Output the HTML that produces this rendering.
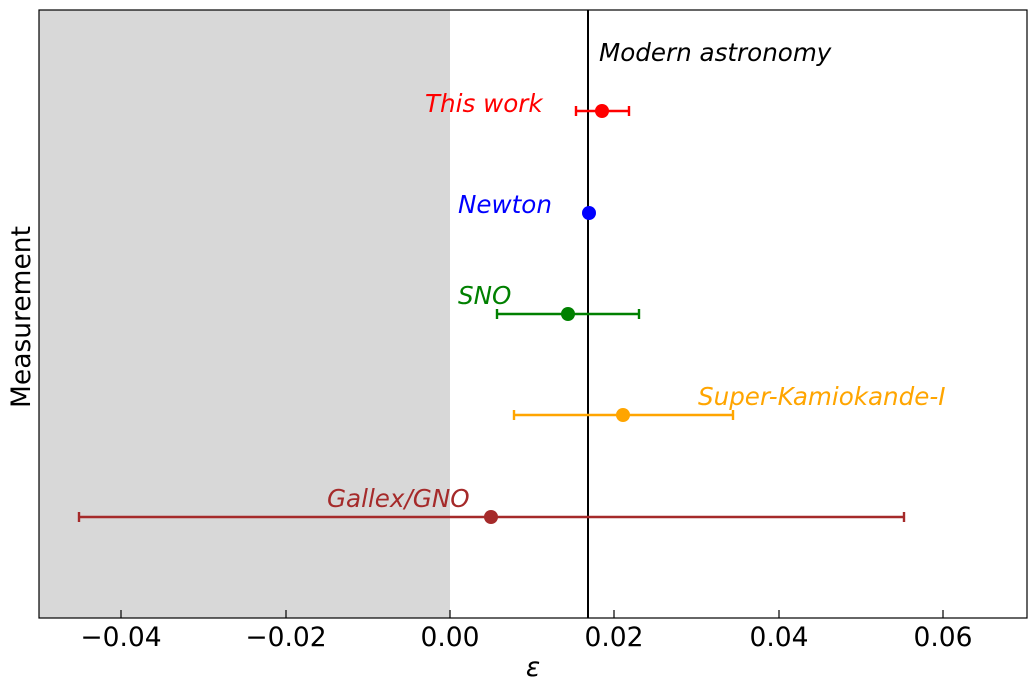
<!DOCTYPE html>
<html><head><meta charset="utf-8"><style>
body{margin:0;background:#fff}
svg text{font-family:"DejaVu Sans","Liberation Sans",sans-serif}
</style></head><body>
<svg width="1035" height="684" xmlns="http://www.w3.org/2000/svg">
<rect x="0" y="0" width="1035" height="684" fill="#fff"/>
<rect x="39" y="10" width="411" height="608" fill="#d8d8d8"/>
<line x1="588" y1="10" x2="588" y2="618" stroke="#000" stroke-width="2"/>
<g stroke-width="2.4">
<g stroke="#ff0000"><line x1="576" y1="111" x2="629" y2="111"/><line x1="576" y1="106" x2="576" y2="116"/><line x1="629" y1="106" x2="629" y2="116"/></g>
<g stroke="#008000"><line x1="497" y1="314" x2="639" y2="314"/><line x1="497" y1="309" x2="497" y2="319"/><line x1="639" y1="309" x2="639" y2="319"/></g>
<g stroke="#ffa500"><line x1="514" y1="415" x2="733" y2="415"/><line x1="514" y1="410" x2="514" y2="420"/><line x1="733" y1="410" x2="733" y2="420"/></g>
<g stroke="#a52a2a"><line x1="79" y1="517" x2="904" y2="517"/><line x1="79" y1="512" x2="79" y2="522"/><line x1="904" y1="512" x2="904" y2="522"/></g>
</g>
<circle cx="602" cy="111" r="7" fill="#ff0000"/>
<circle cx="589" cy="213" r="7" fill="#0000ff"/>
<circle cx="568" cy="314" r="7" fill="#008000"/>
<circle cx="623" cy="415" r="7" fill="#ffa500"/>
<circle cx="491" cy="517" r="7" fill="#a52a2a"/>
<g font-size="24.6" font-style="italic">
<text x="599" y="61" fill="#000">Modern astronomy</text>
<text x="425" y="112" fill="#ff0000">This work</text>
<text x="458" y="213" fill="#0000ff">Newton</text>
<text x="458" y="304" fill="#008000">SNO</text>
<text x="698" y="405" fill="#ffa500">Super-Kamiokande-I</text>
<text x="327" y="507" fill="#a52a2a">Gallex/GNO</text>
</g>
<rect x="39" y="10" width="988" height="608" fill="none" stroke="#000" stroke-width="1.2"/>
<g stroke="#000" stroke-width="1.2">
<line x1="121" y1="618" x2="121" y2="610"/><line x1="286" y1="618" x2="286" y2="610"/><line x1="450" y1="618" x2="450" y2="610"/><line x1="614" y1="618" x2="614" y2="610"/><line x1="779" y1="618" x2="779" y2="610"/><line x1="943" y1="618" x2="943" y2="610"/>
</g>
<g font-size="26.5" text-anchor="middle" fill="#000">
<text x="121" y="646">−0.04</text><text x="286" y="646">−0.02</text><text x="450" y="646">0.00</text><text x="614" y="646">0.02</text><text x="779" y="646">0.04</text><text x="943" y="646">0.06</text>
<text x="533" y="676" font-style="italic">ε</text>
<text transform="translate(30,317) rotate(-90)">Measurement</text>
</g>
</svg>
</body></html>
